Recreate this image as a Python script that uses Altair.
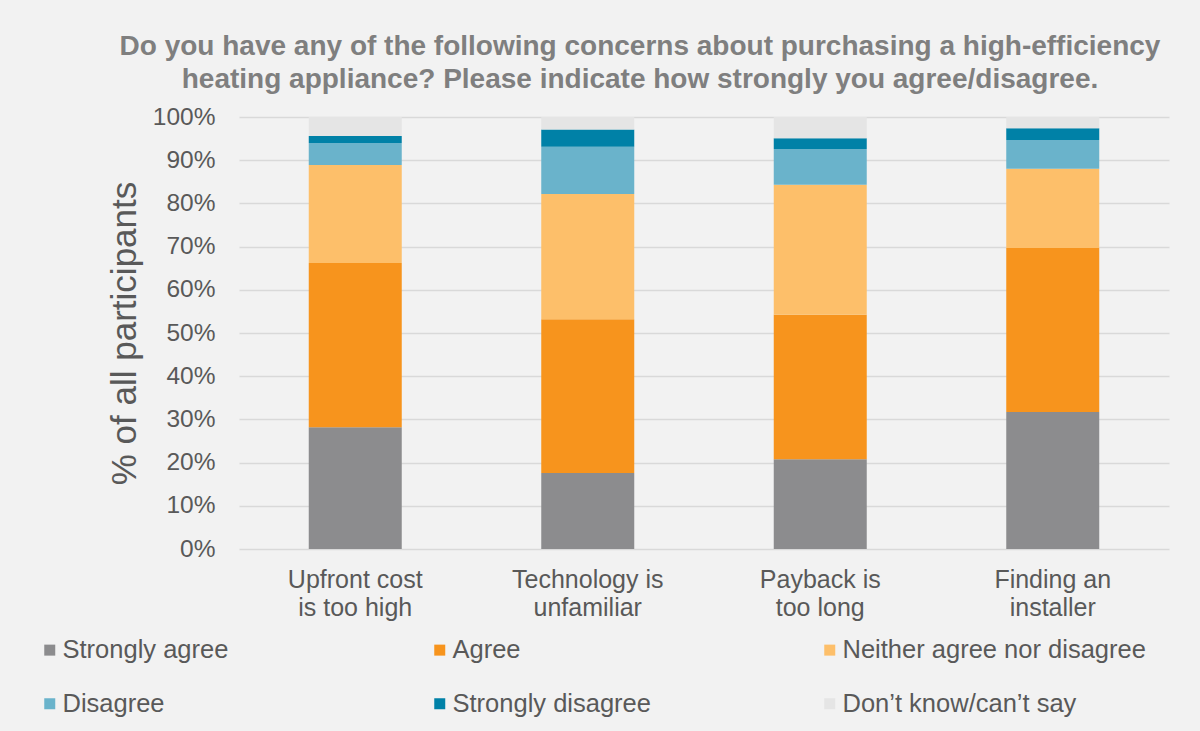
import altair as alt
import pandas as pd

categories = ["Upfront cost|is too high", "Technology is|unfamiliar", "Payback is|too long", "Finding an|installer"]
responses = ["Strongly agree", "Agree", "Neither agree nor disagree", "Disagree", "Strongly disagree", "Don\u2019t know/can\u2019t say"]
colors = ["#8c8c8e", "#f7941d", "#fdbf6a", "#6ab3cb", "#0081a7", "#e5e5e5"]

strongly_agree = [28.2, 17.6, 20.8, 31.7]
agree = [38.0, 35.6, 33.4, 38.0]
neither = [22.7, 29.0, 30.1, 18.3]
disagree = [5.1, 10.9, 8.3, 6.7]
strongly_disagree = [1.6, 4.0, 2.5, 2.7]
dont_know = [4.4, 2.9, 4.9, 2.6]
y_ticks = [0, 10, 20, 30, 40, 50, 60, 70, 80, 90, 100]

series = [strongly_agree, agree, neither, disagree, strongly_disagree, dont_know]
rows = []
for r_i, (resp, vals) in enumerate(zip(responses, series)):
    for cat, v in zip(categories, vals):
        rows.append({"category": cat, "response": resp, "value": v / 100.0, "order": r_i})
df = pd.DataFrame(rows)

FONT = "Liberation Sans"

chart = alt.Chart(df).mark_bar().encode(
    x=alt.X("category:N", sort=categories,
            scale=alt.Scale(paddingInner=0.6, paddingOuter=0.3),
            axis=alt.Axis(title=None, labelAngle=0, labelExpr="split(datum.label, '|')",
                          labelFontSize=25, labelColor="#595959", labelFont=FONT,
                          labelPadding=18, labelLineHeight=28, domain=False, ticks=False)),
    y=alt.Y("value:Q", stack="zero",
            scale=alt.Scale(domain=[0, 1]),
            axis=alt.Axis(title="% of all participants", format=".0%",
                          values=[t / 100 for t in y_ticks], labelOverlap=False,
                          labelFontSize=24.5, labelColor="#595959", labelFont=FONT, labelPadding=24,
                          titleFontSize=35, titleColor="#595959", titleFont=FONT, titleFontWeight="normal",
                          titlePadding=10,
                          domain=False, ticks=False, gridColor="#d9d9d9", gridWidth=1.5)),
    color=alt.Color("response:N", sort=responses,
                    scale=alt.Scale(domain=responses, range=colors),
                    legend=alt.Legend(title=None, orient="none", legendX=-202, legendY=520,
                                      direction="horizontal",
                                      columns=3, gridAlign="all", columnPadding=61, rowPadding=27,
                                      symbolType="square", symbolSize=121, symbolStrokeWidth=0,
                                      labelFontSize=25.5, labelColor="#595959", labelFont=FONT,
                                      labelOffset=0, labelLimit=400)),
    order=alt.Order("order:Q", sort="ascending"),
).properties(
    width=930, height=432,
    title=alt.TitleParams(
        text=["Do you have any of the following concerns about purchasing a high-efficiency",
              "heating appliance? Please indicate how strongly you agree/disagree."],
        fontSize=28, fontWeight="bold", color="#7f7f7f", font=FONT,
        anchor="middle", frame="group", dx=-64, offset=10, lineHeight=33),
).configure(
    background="#f2f2f2",
    padding={"left": 239, "top": 117, "right": 31, "bottom": 182},
    autosize=alt.AutoSizeParams(type="none"),
).configure_view(stroke=None)

chart.save("out.html", embed_options={"renderer": "svg", "actions": False})
